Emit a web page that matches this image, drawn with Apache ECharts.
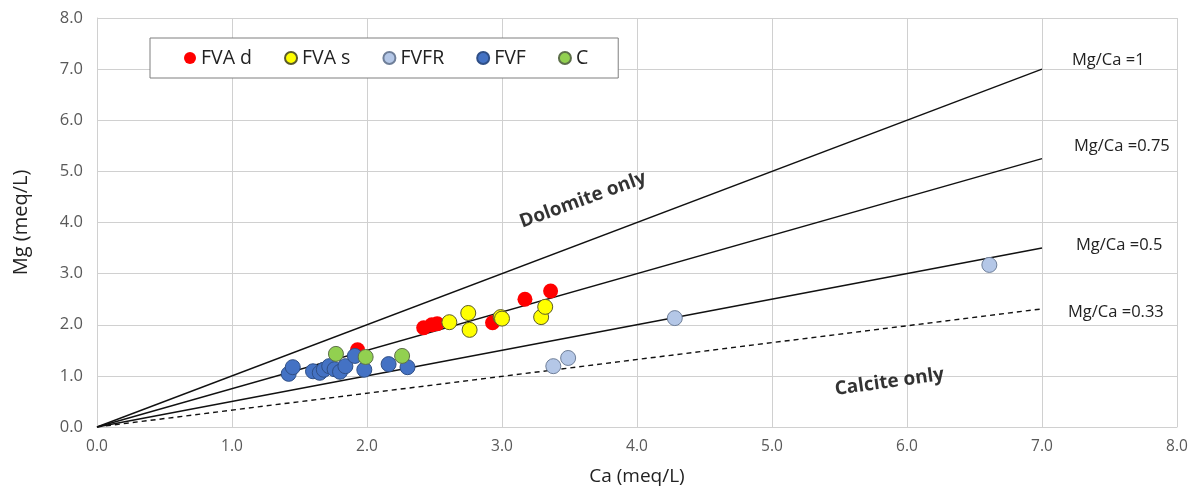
<!DOCTYPE html>
<html>
<head>
<meta charset="utf-8">
<script src="https://cdn.jsdelivr.net/npm/echarts@6/dist/echarts.min.js"></script>
<style>
html,body{margin:0;padding:0;background:#fff;}
#chart{width:1199px;height:493px;}
</style>
</head>
<body>
<div id="chart"></div>
<script>
// Data [Ca, Mg] in meq/L
const fvaD = [[1.93,1.51],[2.42,1.94],[2.48,2.00],[2.52,2.02],[2.93,2.04],[3.17,2.50],[3.36,2.66]];
const fvaS = [[2.61,2.05],[2.75,2.23],[2.76,1.90],[2.99,2.15],[3.00,2.12],[3.29,2.15],[3.32,2.35]];
const fvfr = [[3.38,1.19],[3.49,1.35],[4.28,2.13],[6.61,3.17]];
const fvf = [[1.42,1.04],[1.45,1.17],[1.60,1.09],[1.65,1.06],[1.68,1.12],[1.72,1.19],[1.76,1.13],[1.80,1.08],[1.84,1.19],[1.91,1.39],[1.98,1.12],[2.16,1.23],[2.30,1.17]];
const cSer = [[1.77,1.43],[1.99,1.37],[2.26,1.39]];
// Ratio reference lines
const line1 = [[0,0],[7,7]];
const line075 = [[0,0],[7,5.25]];
const line05 = [[0,0],[7,3.5]];
const line033 = [[0,0],[7,2.31]];
const lineLabels = ['Mg/Ca =1','Mg/Ca =0.75','Mg/Ca =0.5','Mg/Ca =0.33'];
const zoneLabels = [{name:'Dolomite only', value:[3.6,4.44]},{name:'Calcite only', value:[5.87,0.88]}];

const font = "'Open Sans', 'Liberation Sans', sans-serif";
const chart = echarts.init(document.getElementById('chart'), null, {renderer:'canvas'});

function refLine(data, label, dashed, off){
  return {
    type:'line', data:data, symbol:'none', silent:true, z:1,
    lineStyle:{color:'#111', width:1.4, type: dashed ? [5,4] : 'solid'},
    endLabel:{show:true, formatter:label, offset:off, color:'#222', fontSize:16.5, fontFamily:font},
    animation:false
  };
}
function pts(name, data, color, border){
  return {
    name:name, type:'scatter', data:data, symbol:'circle', symbolSize:15, z:5,
    itemStyle:{color:color, borderColor:border, borderWidth: border ? 1 : 0, opacity:1},
    animation:false
  };
}

chart.setOption({
  backgroundColor:'#fff',
  animation:false,
  grid:{left:97, right:22, top:18, bottom:66},
  legend:{
    data:['FVA d','FVA s','FVFR','FVF','C'],
    left:150, top:38,
    padding:[10,30,10,34],
    itemGap:32,
    icon:'circle', itemWidth:12, itemHeight:12,
    backgroundColor:'#fff', borderColor:'#7f7f7f', borderWidth:1,
    textStyle:{fontSize:19.5, color:'#222', fontFamily:font}
  },
  xAxis:{
    type:'value', min:0, max:8, interval:1,
    name:'Ca (meq/L)', nameLocation:'middle', nameGap:40,
    nameTextStyle:{fontSize:19, color:'#222', fontFamily:font},
    axisLine:{show:true, lineStyle:{color:'#d0d0d0'}},
    axisTick:{show:false},
    axisLabel:{formatter:v=>v.toFixed(1), color:'#595959', fontSize:15.5, margin:12, fontFamily:font},
    splitLine:{show:true, lineStyle:{color:'#d0d0d0', width:1}}
  },
  yAxis:{
    type:'value', min:0, max:8, interval:1,
    name:'Mg (meq/L)', nameLocation:'middle', nameGap:66,
    nameTextStyle:{fontSize:20, color:'#222', fontFamily:font},
    axisLine:{show:true, lineStyle:{color:'#d0d0d0'}},
    axisTick:{show:false},
    axisLabel:{formatter:v=>v.toFixed(1), color:'#595959', fontSize:16.5, margin:14, fontFamily:font},
    splitLine:{show:true, lineStyle:{color:'#d0d0d0', width:1}}
  },
  series:[
    refLine(line1, lineLabels[0], false, [22,-9]),
    refLine(line075, lineLabels[1], false, [24,-12]),
    refLine(line05, lineLabels[2], false, [26,-3]),
    refLine(line033, lineLabels[3], true, [18,3]),
    pts('FVA d', fvaD, '#ff0000', null),
    pts('FVA s', fvaS, '#ffff00', '#5a5a2a'),
    pts('FVFR', fvfr, '#b4c7e7', '#6f7f99'),
    pts('FVF', fvf, '#4472c4', '#2f4f86'),
    pts('C', cSer, '#92d050', '#5d6f4a'),
    {
      type:'scatter', symbolSize:0, silent:true, z:6,
      data:[
        {name:zoneLabels[0].name, value:zoneLabels[0].value, label:{rotate:20}},
        {name:zoneLabels[1].name, value:zoneLabels[1].value, label:{rotate:8}}
      ],
      label:{show:true, position:'inside', formatter:p=>p.name, fontSize:19, fontWeight:'bold', color:'#000', fontFamily:font}
    }
  ]
});
</script>
</body>
</html>
